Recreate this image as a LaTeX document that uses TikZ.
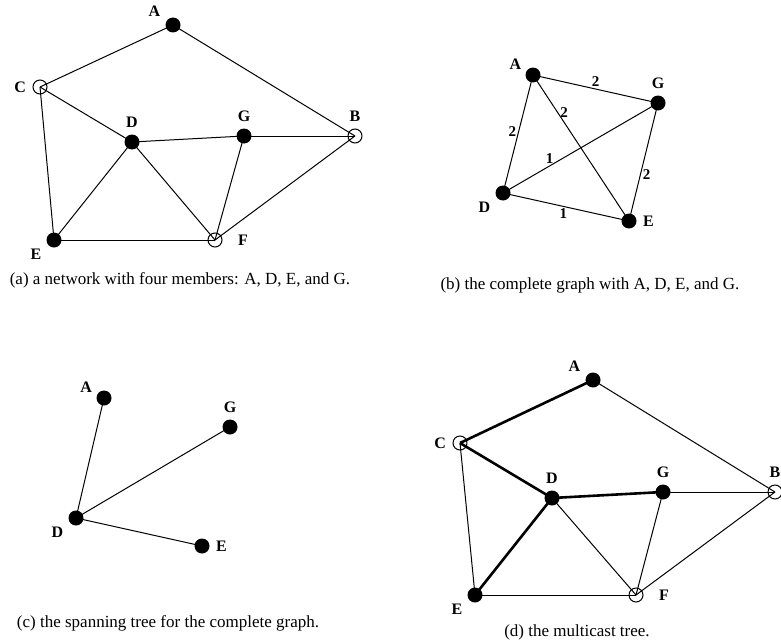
\documentclass[tikz,border=0pt]{standalone}
\usepackage{fontspec}
\setmainfont{Liberation Serif}
\usetikzlibrary{positioning}

\begin{document}
\begin{tikzpicture}[x=1pt, y=-1pt,
  member/.style={circle, fill=black, inner sep=0pt, minimum size=15pt},
  router/.style={circle, draw, line width=1pt, inner sep=0pt, minimum size=14pt},
  link/.style={line width=1pt},
  tree/.style={line width=2.6pt},
  lbl/.style={font=\fontsize{16}{18}\selectfont\bfseries, label distance=3pt},
  wgt/.style={font=\fontsize{15}{17}\selectfont\bfseries, inner sep=2pt},
  caption/.style={font=\fontsize{17}{20}\selectfont}
]
\useasboundingbox (0,0) rectangle (781,642);

% (a) the network
\node[member, label={[lbl]150:A}] (aA) at (173,25) {};
\node[router, label={[lbl]left:C}] (aC) at (40,87) {};
\node[member, label={[lbl]above:D}] (aD) at (132,142) {};
\node[member, label={[lbl]above:G}] (aG) at (244,136) {};
\node[router, label={[lbl]above:B}] (aB) at (355,136) {};
\node[member, label={[lbl]210:E}] (aE) at (54,240) {};
\node[router, label={[lbl, label distance=12pt]right:F}] (aF) at (215,240) {};

\draw[link] (aA.center) -- (aC.center);
\draw[link] (aA.center) -- (aB.center);
\draw[link] (aC.center) -- (aD.center);
\draw[link] (aC.center) -- (aE.center);
\draw[link] (aD.center) -- (aG.center);
\draw[link] (aG.center) -- (aB.center);
\draw[link] (aD.center) -- (aE.center);
\draw[link] (aD.center) -- (aF.center);
\draw[link] (aG.center) -- (aF.center);
\draw[link] (aB.center) -- (aF.center);
\draw[link] (aE.center) -- (aF.center);

\node[caption] (capA) at (180,280) {(a) a network with four members: A, D, E, and G.};

% (b) the complete graph
\node[member, label={[lbl, label distance=1pt]165:A}] (bA) at (533,75) {};
\node[member, label={[lbl]above:G}] (bG) at (658,103) {};
\node[member, label={[lbl]210:D}] (bD) at (503,193) {};
\node[member, label={[lbl]right:E}] (bE) at (629,221) {};

\draw[link] (bA.center) -- node[wgt, above] {2} (bG.center);
\draw[link] (bA.center) -- node[wgt, right, pos=0.26] {2} (bE.center);
\draw[link] (bA.center) -- node[wgt, left, pos=0.48] {2} (bD.center);
\draw[link] (bD.center) -- node[wgt, above, pos=0.3] {1} (bG.center);
\draw[link] (bG.center) -- node[wgt, right, pos=0.61] {2} (bE.center);
\draw[link] (bD.center) -- node[wgt, below, pos=0.48] {1} (bE.center);

\node[caption] (capB) at (590,285) {(b) the complete graph with A, D, E, and G.};

% (c) the spanning tree
\node[member, label={[lbl, label distance=1pt]170:A}] (cA) at (104,398) {};
\node[member, label={[lbl]above:G}] (cG) at (230,427) {};
\node[member, label={[lbl]210:D}] (cD) at (76,518) {};
\node[member, label={[lbl]right:E}] (cE) at (202,546) {};

\draw[link] (cD.center) -- (cA.center);
\draw[link] (cD.center) -- (cG.center);
\draw[link] (cD.center) -- (cE.center);

\node[caption] (capC) at (168,623) {(c) the spanning tree for the complete graph.};

% (d) the multicast tree
\node[member, label={[lbl]150:A}] (dA) at (593,380) {};
\node[router, label={[lbl]left:C}] (dC) at (460,443) {};
\node[member, label={[lbl]above:D}] (dD) at (552,498) {};
\node[member, label={[lbl]above:G}] (dG) at (663,492) {};
\node[router, label={[lbl]above:B}] (dB) at (775,492) {};
\node[member, label={[lbl]210:E}] (dE) at (475,595) {};
\node[router, label={[lbl, label distance=12pt]right:F}] (dF) at (636,595) {};

\draw[tree] (dA.center) -- (dC.center);
\draw[tree] (dC.center) -- (dD.center);
\draw[tree] (dD.center) -- (dG.center);
\draw[tree] (dD.center) -- (dE.center);
\draw[link] (dA.center) -- (dB.center);
\draw[link] (dC.center) -- (dE.center);
\draw[link] (dG.center) -- (dB.center);
\draw[link] (dD.center) -- (dF.center);
\draw[link] (dG.center) -- (dF.center);
\draw[link] (dB.center) -- (dF.center);
\draw[link] (dE.center) -- (dF.center);

\node[caption] (capD) at (577,632) {(d) the multicast tree.};

\end{tikzpicture}
\end{document}
